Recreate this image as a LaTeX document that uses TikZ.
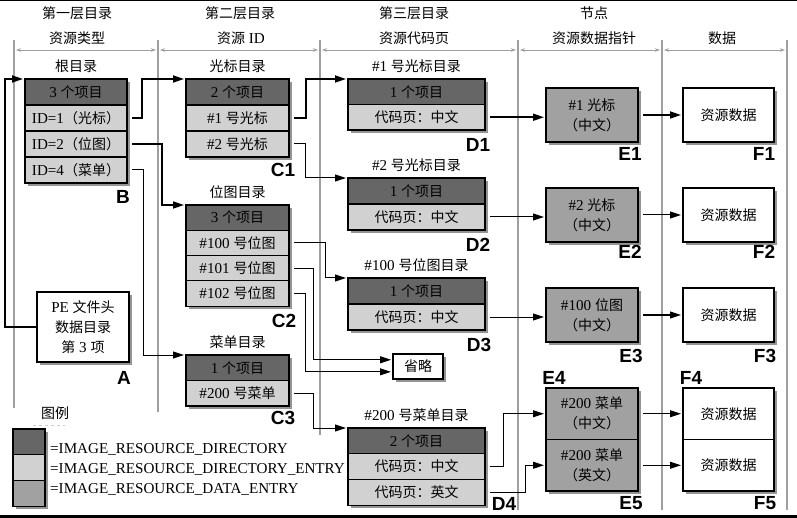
\documentclass[tikz,border=0pt]{standalone}
\usepackage{fontspec}
\setmainfont{Liberation Serif}[Scale=1.08]
\newfontfamily\cjk{Noto Sans CJK SC}
\newfontfamily\lbl{Liberation Sans}
\usetikzlibrary{positioning,arrows.meta,shadows}
\newcommand{\zh}[1]{{\cjk #1}}

\definecolor{dirgray}{gray}{0.40}
\definecolor{entgray}{gray}{0.82}
\definecolor{datgray}{gray}{0.63}

\begin{document}
\begin{tikzpicture}[x=1pt, y=-1pt, font=\fontsize{14}{20}\selectfont]

%-------------------------------------------------
% Styles
%-------------------------------------------------
\tikzset{
  colrule/.style={draw=gray!75, line width=1.2pt},
  span/.style={draw=gray!75, line width=0.8pt, {Stealth[length=5pt,width=3.5pt]}-{Stealth[length=5pt,width=3.5pt]}},
  cell/.style={draw, line width=1.1pt, inner sep=0pt, outer sep=0pt, minimum height=26,
    drop shadow={shadow xshift=3pt, shadow yshift=-3pt, fill=black!70, opacity=0.6}},
  dirhead/.style={cell, fill=dirgray, minimum width=#1},
  dirent/.style={cell, fill=entgray, minimum width=#1},
  datent/.style={cell, fill=datgray, minimum width=92, minimum height=54, align=center},
  rawdata/.style={cell, fill=white, minimum width=91, minimum height=54, align=center},
  tag/.style={font=\fontsize{19}{20}\lbl\bfseries},
  link/.style={-{Triangle[length=11pt,width=7pt]}, line width=1pt, shorten <=5pt, shorten >=2pt},
  boldlink/.style={link, line width=1.7pt}
}

\useasboundingbox (0,0) rectangle (797,518);
\fill[black] (0,0) rectangle (797,1.2);
\fill[black] (0,515) rectangle (797,518);

%-------------------------------------------------
% Column rules and headings
%-------------------------------------------------
\foreach \x/\yb in {14/408, 158/412, 320/435, 518/510, 662/510, 787/510} {
  \draw[colrule] (\x,40) -- (\x,\yb);
}
\foreach \xa/\xb in {16/156, 160/318, 322/516, 520/660, 664/785} {
  \draw[span] (\xa,50) -- (\xb,50);
}

\node (hd1a) at (77,13) {\zh{第一层目录}};
\node (hd1b) at (77,38) {\zh{资源类型}};
\node (hd2a) at (240,13) {\zh{第二层目录}};
\node (hd2b) at (241,38) {\zh{资源} ID};
\node (hd3a) at (414,13) {\zh{第三层目录}};
\node (hd3b) at (414,38) {\zh{资源代码页}};
\node (hd4a) at (594,13) {\zh{节点}};
\node (hd4b) at (594,38) {\zh{资源数据指针}};
\node (hd5b) at (722,38) {\zh{数据}};

%-------------------------------------------------
% First level: root directory
%-------------------------------------------------
\node[dirhead=102, anchor=north west] (Bh) at (25,79) {3 \zh{个项目}};
\node[dirent=102, below=0pt of Bh] (B1) {ID=1\zh{（光标）}};
\node[dirent=102, below=0pt of B1] (B2) {ID=2\zh{（位图）}};
\node[dirent=102, below=0pt of B2] (B3) {ID=4\zh{（菜单）}};
\node[above=3pt of Bh] (Bt) {\zh{根目录}};

% PE header
\node[rawdata, minimum width=92, minimum height=70, anchor=north west] (A) at (37,292)
  {PE \zh{文件头}\\\zh{数据目录}\\\zh{第} 3 \zh{项}};

%-------------------------------------------------
% Second level
%-------------------------------------------------
\node[dirhead=103, anchor=north west] (C1h) at (186,79) {2 \zh{个项目}};
\node[dirent=103, below=0pt of C1h] (C1a) {\#1 \zh{号光标}};
\node[dirent=103, below=0pt of C1a] (C1b) {\#2 \zh{号光标}};
\node[above=3pt of C1h] (C1t) {\zh{光标目录}};

\node[dirhead=103, anchor=north west, minimum height=25.3] (C2h) at (186,205) {3 \zh{个项目}};
\node[dirent=103, minimum height=25.3, below=0pt of C2h] (C2a) {\#100 \zh{号位图}};
\node[dirent=103, minimum height=25.3, below=0pt of C2a] (C2b) {\#101 \zh{号位图}};
\node[dirent=103, minimum height=25.3, below=0pt of C2b] (C2c) {\#102 \zh{号位图}};
\node[above=3pt of C2h] (C2t) {\zh{位图目录}};

\node[dirhead=103, anchor=north west, minimum height=25.5] (C3h) at (186,355) {1 \zh{个项目}};
\node[dirent=103, minimum height=25.5, below=0pt of C3h] (C3a) {\#200 \zh{号菜单}};
\node[above=3pt of C3h] (C3t) {\zh{菜单目录}};

%-------------------------------------------------
% Third level
%-------------------------------------------------
\node[dirhead=137, anchor=north west, minimum height=25.5] (D1h) at (348,79) {1 \zh{个项目}};
\node[dirent=137, minimum height=25.5, below=0pt of D1h] (D1r) {\zh{代码页：中文}};
\node[above=3pt of D1h] (D1t) {\#1 \zh{号光标目录}};

\node[dirhead=137, anchor=north west] (D2h) at (348,178) {1 \zh{个项目}};
\node[dirent=137, below=0pt of D2h] (D2r) {\zh{代码页：中文}};
\node[above=3pt of D2h] (D2t) {\#2 \zh{号光标目录}};

\node[dirhead=137, anchor=north west] (D3h) at (348,278) {1 \zh{个项目}};
\node[dirent=137, below=0pt of D3h] (D3r) {\zh{代码页：中文}};
\node[above=3pt of D3h] (D3t) {\#100 \zh{号位图目录}};

\node[dirhead=137, anchor=north west, minimum height=25.7] (D4h) at (348,428) {2 \zh{个项目}};
\node[dirent=137, minimum height=25.7, below=0pt of D4h] (D4a) {\zh{代码页：中文}};
\node[dirent=137, minimum height=25.7, below=0pt of D4a] (D4b) {\zh{代码页：英文}};
\node[above=3pt of D4h] (D4t) {\#200 \zh{号菜单目录}};

% omitted entries
\node[cell, fill=white, minimum width=50, minimum height=25, anchor=north west] (omit) at (393,354) {\zh{省略}};

%-------------------------------------------------
% Data entries and raw data
%-------------------------------------------------
\node[datent, anchor=north west] (E1) at (546,88) {\#1 \zh{光标}\\\zh{（中文）}};
\node[datent, anchor=north west] (E2) at (546,188) {\#2 \zh{光标}\\\zh{（中文）}};
\node[datent, anchor=north west] (E3) at (546,288) {\#100 \zh{位图}\\\zh{（中文）}};
\node[datent, anchor=north west, minimum height=51.5] (E4) at (546,388) {\#200 \zh{菜单}\\\zh{（中文）}};
\node[datent, minimum height=51.5, below=0pt of E4] (E5) {\#200 \zh{菜单}\\\zh{（英文）}};

\node[rawdata, anchor=north west] (F1) at (683,88) {\zh{资源数据}};
\node[rawdata, anchor=north west] (F2) at (683,188) {\zh{资源数据}};
\node[rawdata, anchor=north west] (F3) at (683,288) {\zh{资源数据}};
\node[rawdata, anchor=north west, minimum height=51.5] (F4) at (683,388) {\zh{资源数据}};
\node[rawdata, minimum height=51.5, below=0pt of F4] (F5) {\zh{资源数据}};

%-------------------------------------------------
% Tags
%-------------------------------------------------
\node[tag] (tA) at (124,378) {A};
\node[tag] (tB) at (123,197) {B};
\node[tag] (tC1) at (283,170) {C1};
\node[tag] (tC2) at (284,321) {C2};
\node[tag] (tC3) at (283,418) {C3};
\node[tag] (tD1) at (478,145) {D1};
\node[tag] (tD2) at (478,245) {D2};
\node[tag] (tD3) at (479,345) {D3};
\node[tag] (tD4) at (504,504) {D4};
\node[tag] (tE1) at (630,154) {E1};
\node[tag] (tE2) at (630,252) {E2};
\node[tag] (tE3) at (631,356) {E3};
\node[tag] (tE4) at (554,378) {E4};
\node[tag] (tE5) at (631,503) {E5};
\node[tag] (tF1) at (764,154) {F1};
\node[tag] (tF2) at (764,252) {F2};
\node[tag] (tF3) at (765,356) {F3};
\node[tag] (tF4) at (691,378) {F4};
\node[tag] (tF5) at (765,503) {F5};

%-------------------------------------------------
% Connectors
%-------------------------------------------------
\draw[boldlink, shorten <=0pt] (A.west) -- ++(-32,0) |- (Bh.north west);
\draw[boldlink] (B1.east) -- ++(15,0) |- (C1h.north west);
\draw[boldlink] (B2.east) -- ++(35,0) |- (C2h.north west);
\draw[link] (B3.east) -- ++(16,0) |- (C3h.north west);

\draw[boldlink] (C1a.east) -- ++(17,0) |- (D1h.north west);
\draw[link] (C1b.east) -- ++(16,0) |- (D2h.north west);
\draw[link] (C2a.east) -- ++(36,0) |- (D3h.north west);
\draw[link] (C2b.east) -- ++(24,0) |- (omit.165);
\draw[link] (C2c.east) -- ++(16,0) |- (omit.192);
\draw[link] (C3a.east) -- ++(24,0) |- (D4h.north west);

\draw[boldlink] (D1r.east) -- (D1r.east -| E1.west);
\draw[link] (D2r.east) -- (D2r.east -| E2.west);
\draw[link] (D3r.east) -- (D3r.east -| E3.west);
\draw[link] (D4a.east) -- ++(18,0) |- (E4.west);
\draw[link] (D4b.east) -- ++(40,0) |- (E5.west);

\draw[boldlink] (E1.east) -- (F1.west);
\foreach \n in {2,...,5} {
  \draw[link] (E\n.east) -- (F\n.west);
}

%-------------------------------------------------
% Legend
%-------------------------------------------------
\node (lgt) at (55,413) {\zh{图例}};
\draw[gray!40, dashed] (33,425) -- (65,425);
\node[dirhead=32, anchor=north west, minimum height=25.7] (lg1) at (13,429) {};
\node[dirent=32, minimum height=25.7, below=0pt of lg1] (lg2) {};
\node[cell, fill=datgray, minimum width=32, minimum height=25.7, below=0pt of lg2] (lg3) {};
\node[anchor=west, inner sep=0pt] (lgx1) at (50,449) {=IMAGE\_RESOURCE\_DIRECTORY};
\node[anchor=west, inner sep=0pt] (lgx2) at (50,469) {=IMAGE\_RESOURCE\_DIRECTORY\_ENTRY};
\node[anchor=west, inner sep=0pt] (lgx3) at (50,489) {=IMAGE\_RESOURCE\_DATA\_ENTRY};

\end{tikzpicture}
\end{document}
